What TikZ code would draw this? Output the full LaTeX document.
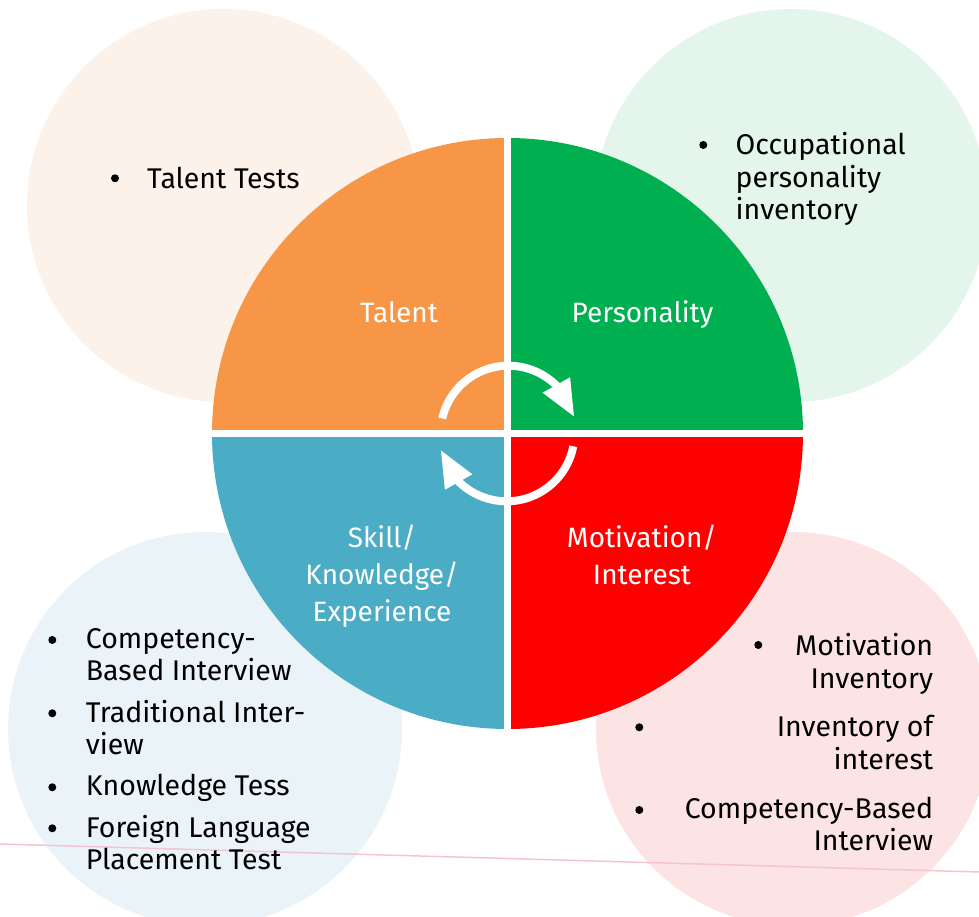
\documentclass[tikz,border=0pt]{standalone}
\usepackage{fontspec}
\setmainfont{Fira Sans}
\usetikzlibrary{arrows.meta,bending}

\definecolor{talentorange}{HTML}{F79646}
\definecolor{persgreen}{HTML}{00B050}
\definecolor{motivred}{HTML}{FF0000}
\definecolor{skillblue}{HTML}{4BACC6}
\definecolor{talentpale}{HTML}{FDF2EA}
\definecolor{perspale}{HTML}{E4F5EC}
\definecolor{skillpale}{HTML}{EAF4F8}
\definecolor{motivpale}{HTML}{FDE4E4}
\definecolor{rulepink}{HTML}{F4C4D0}

\tikzset{
  quadlabel/.style={text=white, font=\fontsize{28}{36.7}\selectfont, align=center, inner sep=0pt, anchor=base},
  itemtext/.style={font=\fontsize{28.5}{32.7}\selectfont, inner sep=0pt, anchor=base west, align=left},
  itemdot/.style={circle, fill=black, inner sep=0pt, minimum size=8pt},
  cyclearrow/.style={white, line width=8pt, -{Triangle[length=37pt,width=29pt,flex]}},
}

\begin{document}
\begin{tikzpicture}[x=1pt,y=1pt]
\useasboundingbox (0,0) rectangle (979,917);

% pale discs behind
\fill[talentpale] (223.5,711.5) circle[radius=196.5pt];
\fill[perspale] (791,711.5) circle[radius=196.5pt];
\fill[skillpale] (205,188) circle[radius=197pt];
\fill[motivpale] (793,188) circle[radius=197pt];

\draw[rulepink, line width=1.5pt] (0,73) -- (979,45);

% the four quarters
\coordinate (hub) at (507.5,483.5);
\fill[talentorange] (hub) -- ++(180:295.5pt) arc[start angle=180, end angle=90, radius=295.5pt] -- cycle;
\fill[persgreen] (hub) -- ++(90:295.5pt) arc[start angle=90, end angle=0, radius=295.5pt] -- cycle;
\fill[motivred] (hub) -- ++(0:295.5pt) arc[start angle=0, end angle=-90, radius=295.5pt] -- cycle;
\fill[skillblue] (hub) -- ++(-90:295.5pt) arc[start angle=-90, end angle=-180, radius=295.5pt] -- cycle;
\draw[white, line width=7.5pt] ([yshift=-296pt]hub) -- ([yshift=296pt]hub);
\draw[white, line width=7.5pt] ([xshift=-296pt]hub) -- ([xshift=296pt]hub);

% cycle arrows
\draw[cyclearrow] ([shift={(167:67pt)}]hub) arc[start angle=167, end angle=14, radius=68pt];
\draw[cyclearrow] ([shift={(-11:67pt)}]hub) arc[start angle=-11, end angle=-166, radius=68pt];

% quarter labels (base = last line)
\node[quadlabel] (talent) at (399,594.3) {Talent};
\node[quadlabel] (personality) at (642.5,594.3) {Personality};
\node[quadlabel] (skill) at (382,295.6) {Skill/\\Knowledge/\\Experience};
\node[quadlabel] (motivation) at (642,332.3) {Motivation/\\Interest};

% top left
\node[itemdot] (dotTT) at (115,738.7) {};
\node[itemtext] (talentTests) at (147,728.7) {Talent Tests};

% top right
\node[itemdot] (dotOP) at (703.3,772) {};
\node[itemtext] (occPers) at (735.5,697) {Occupational\\personality\\inventory};

% bottom left
\node[itemdot] (dotCBI) at (52.3,277) {};
\node[itemtext] (cbInterview) at (85.7,236) {Competency-\\Based Interview};
\node[itemdot] (dotTI) at (52.3,203.7) {};
\node[itemtext] (tradInterview) at (85.7,162) {Traditional Inter-\\view};
\node[itemdot] (dotKT) at (52.3,129.7) {};
\node[itemtext] (knowTest) at (85.7,121.3) {Knowledge Tess};
\node[itemdot] (dotFL) at (52.3,88.7) {};
\node[itemtext] (langTest) at (85.7,47) {Foreign Language\\Placement Test};

% bottom right
\node[itemdot] (dotMI) at (758.3,272) {};
\node[itemtext, anchor=base east, align=right] (motInventory) at (933.3,228.7) {Motivation\\Inventory};
\node[itemdot] (dotIoI) at (639.3,189.7) {};
\node[itemtext, anchor=base east, align=right] (intInventory) at (933.3,147.7) {Inventory of\\interest};
\node[itemdot] (dotCB) at (639.3,107) {};
\node[itemtext, anchor=base east, align=right] (cbInterviewB) at (933.3,66) {Competency-Based\\Interview};
\end{tikzpicture}
\end{document}
